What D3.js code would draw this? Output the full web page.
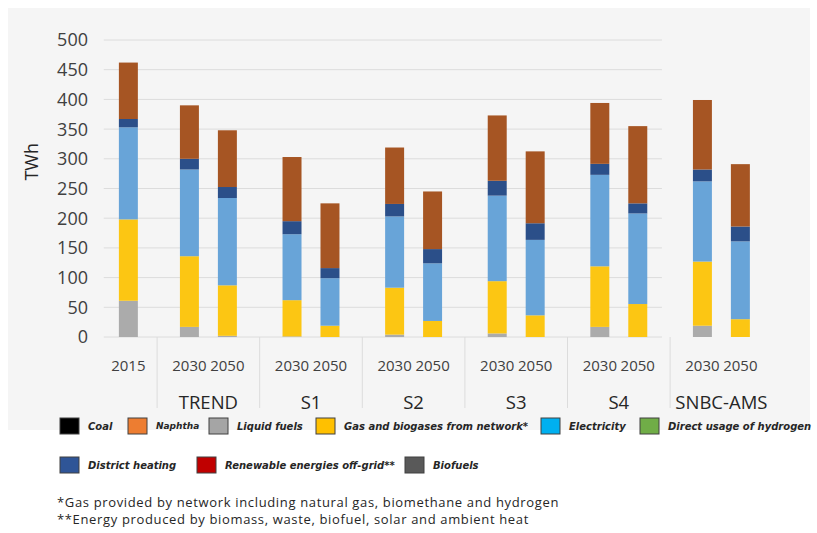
<!DOCTYPE html>
<html lang="en">
<head>
  <meta charset="UTF-8">
  <title>Final energy consumption by scenario</title>
  <script src="https://d3js.org/d3.v7.min.js"></script>
  <style>
    body { margin: 0; background: #fff; }
    text { font-family: "Open Sans", sans-serif; }
  </style>
</head>
<body>
  <div id="chart"></div>
  <script>

  // scenarios and years on the category axis
  const scenarios = ["TREND", "S1", "S2", "S3", "S4", "SNBC-AMS"];
  const years = ["2030", "2050"];
  const baseYear = "2015";

  // TWh, order: 2015, then 2030/2050 for each scenario
  const liquidFuels = [61, 17, 2, 1, 0, 4, 0, 6, 0, 17, 0, 19, 0];
  const gasNetwork  = [137, 119, 85, 61, 19, 79, 27, 88, 36.5, 102, 55.5, 108, 30];
  const electricity = [155, 146, 147, 111, 80, 120, 97, 144, 127, 154, 152.5, 135, 131];
  const districtHeat = [14, 18, 18.5, 22, 17, 21, 24, 25, 28, 18.5, 17, 20, 25];
  const renewables  = [95, 90, 95.5, 108, 109, 95, 97, 110, 121, 102.5, 130, 117, 105];

  const yTicks = [0, 50, 100, 150, 200, 250, 300, 350, 400, 450, 500];

  const legendRow1 = ["Coal", "Naphtha", "Liquid fuels", "Gas and biogases from network*", "Electricity", "Direct usage of hydrogen"];
  const legendRow2 = ["District heating", "Renewable energies off-grid**", "Biofuels"];
  const notes = ["*Gas provided by network including natural gas, biomethane and hydrogen",
                 "**Energy produced by biomass, waste, biofuel, solar and ambient heat"];

  // colours
  const barColors = ["#ababab", "#fcc613", "#68a4d8", "#2b4f89", "#a65523"];
  const legendColors = {
    "Coal": "#000000", "Naphtha": "#ed7d31", "Liquid fuels": "#a5a5a5",
    "Gas and biogases from network*": "#ffc000", "Electricity": "#00b0f0",
    "Direct usage of hydrogen": "#70ad47", "District heating": "#2f5597",
    "Renewable energies off-grid**": "#c00000", "Biofuels": "#595959"
  };

  const width = 817, height = 533;

  const svg = d3.select("#chart").append("svg")
      .attr("width", width)
      .attr("height", height);

  // grey chart panel
  svg.append("rect")
     .attr("x", 8).attr("y", 8)
     .attr("width", 802).attr("height", 422)
     .attr("fill", "#f5f5f5");

  // bar records
  const labels = [baseYear];
  const slots = [0.22];
  scenarios.forEach(function (s, i) {
    years.forEach(function (yr, j) {
      labels.push(yr);
      slots.push(i + 1 + (j === 0 ? -0.185 : 0.185));
    });
  });
  const series = [liquidFuels, gasNetwork, electricity, districtHeat, renewables];
  const bars = labels.map(function (l, i) {
    return {label: l, slot: slots[i], values: series.map(function (s) { return s[i]; })};
  });

  // scales
  const x = d3.scaleLinear().domain([0, 6]).range([105.8, 721.4]);
  const y = d3.scaleLinear().domain([0, 500]).range([337, 40]);
  const barW = x(0.185) - x(0);

  // gridlines
  svg.append("g")
     .selectAll("line")
     .data(yTicks)
     .enter().append("line")
       .attr("x1", x(-0.02)).attr("x2", x(5.42))
       .attr("y1", function (d) { return y(d); })
       .attr("y2", function (d) { return y(d); })
       .attr("stroke", "#dcdcdc")
       .attr("stroke-width", 1);

  // y labels
  svg.append("g")
     .selectAll("text")
     .data(yTicks)
     .enter().append("text")
       .attr("x", 88)
       .attr("y", function (d) { return y(d); })
       .attr("dy", "0.36em")
       .attr("text-anchor", "end")
       .style("font-size", "18px")
       .attr("fill", "#404040")
       .text(function (d) { return d; });

  svg.append("text")
     .attr("transform", "translate(38," + y(295) + ") rotate(-90)")
     .attr("text-anchor", "middle")
     .style("font-size", "18px")
     .attr("fill", "#262626")
     .text("TWh");

  // stacked bars
  const barG = svg.append("g")
     .selectAll("g")
     .data(bars)
     .enter().append("g");

  barG.selectAll("rect")
     .data(function (d) {
       let acc = 0;
       return d.values.map(function (v, k) {
         const r = {slot: d.slot, y0: acc, y1: acc + v, k: k};
         acc += v;
         return r;
       }).filter(function (r) { return r.y1 > r.y0; });
     })
     .enter().append("rect")
       .attr("x", function (d) { return x(d.slot) - barW / 2; })
       .attr("width", barW)
       .attr("y", function (d) { return y(d.y1); })
       .attr("height", function (d) { return y(d.y0) - y(d.y1); })
       .attr("fill", function (d) { return barColors[d.k]; });

  // category separators
  svg.append("g")
     .selectAll("line")
     .data(d3.range(6))
     .enter().append("line")
       .attr("x1", function (d) { return x(d + 0.5); })
       .attr("x2", function (d) { return x(d + 0.5); })
       .attr("y1", y(0)).attr("y2", 408)
       .attr("stroke", "#dcdcdc");

  // year labels
  svg.append("g")
     .selectAll("text")
     .data(bars)
     .enter().append("text")
       .attr("x", function (d) { return x(d.slot); })
       .attr("y", 371)
       .attr("text-anchor", "middle")
       .style("font-size", "15px")
       .attr("fill", "#404040")
       .text(function (d) { return d.label; });

  // scenario labels
  svg.append("g")
     .selectAll("text")
     .data(scenarios)
     .enter().append("text")
       .attr("x", function (d, i) { return x(i + 1); })
       .attr("y", 409)
       .attr("text-anchor", "middle")
       .style("font-size", "18.5px")
       .attr("fill", "#262626")
       .text(function (d) { return d; });

  // legend
  const row1X = [60, 128, 209, 316, 541, 640];
  const row2X = [60, 197, 405];
  function legendRow(items, xs, yc) {
    const g = svg.append("g").selectAll("g")
       .data(items)
       .enter().append("g")
         .attr("transform", function (d, i) { return "translate(" + xs[i] + "," + yc + ")"; });
    g.append("rect")
       .attr("x", 0).attr("y", -8)
       .attr("width", 19).attr("height", 16)
       .attr("fill", function (d) { return legendColors[d]; })
       .attr("stroke", "#404040")
       .attr("stroke-width", 1);
    g.append("text")
       .attr("x", 28)
       .attr("dy", "0.35em")
       .style("font-family", "'DejaVu Sans', sans-serif")
       .style("font-size", function (d) { return d === "Naphtha" ? "9px" : "10px"; })
       .style("font-weight", "bold")
       .style("font-style", "italic")
       .attr("fill", "#262626")
       .text(function (d) { return d; });
  }
  legendRow(legendRow1, row1X, 426);
  legendRow(legendRow2, row2X, 465);

  // footnotes
  svg.append("g")
     .selectAll("text")
     .data(notes)
     .enter().append("text")
       .attr("x", 57)
       .attr("y", function (d, i) { return 507 + i * 17; })
       .style("font-size", "13px")
       .style("letter-spacing", "0.65px")
       .attr("fill", "#262626")
       .text(function (d) { return d; });

  </script>
</body>
</html>
